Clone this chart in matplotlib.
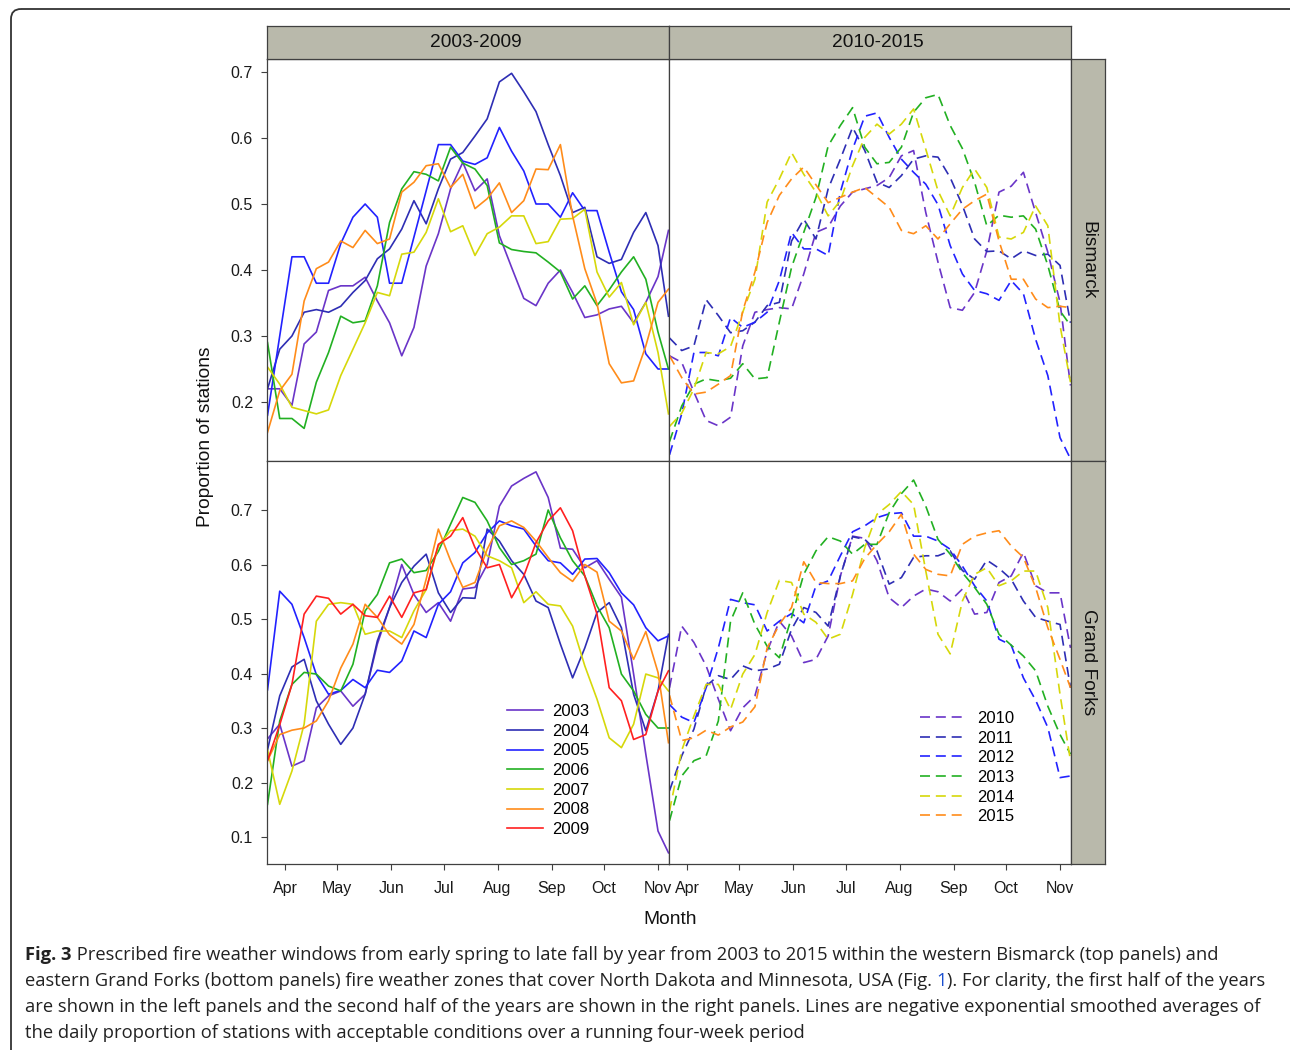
import numpy as np
import matplotlib
matplotlib.use("Agg")
import matplotlib.pyplot as plt
from matplotlib.patches import FancyBboxPatch

plt.rcParams['font.family'] = ['Liberation Sans', 'DejaVu Sans']

# sampling days (day of year), weekly from late March to early November
days = [81, 88, 95, 102, 109, 116, 123, 130, 137, 144, 151, 158, 165, 172, 179, 186, 193,
        200, 207, 214, 221, 228, 235, 242, 249, 256, 263, 270, 277, 284, 291, 298, 305, 311]

month_ticks = [91, 121, 152, 182, 213, 244, 274, 305]
month_labels = ['Apr', 'May', 'Jun', 'Jul', 'Aug', 'Sep', 'Oct', 'Nov']

# Bismarck, 2003-2009 (no 2009 line)
bis03 = [0.22, 0.22, 0.195, 0.288, 0.306, 0.369, 0.376, 0.376, 0.389, 0.353, 0.32, 0.27, 0.313, 0.406, 0.455, 0.523, 0.563,
         0.52, 0.538, 0.452, 0.404, 0.357, 0.346, 0.38, 0.40, 0.366, 0.328, 0.332, 0.341, 0.345, 0.32, 0.351, 0.39, 0.46]
bis04 = [0.22, 0.28, 0.30, 0.336, 0.34, 0.336, 0.345, 0.366, 0.384, 0.417, 0.432, 0.462, 0.505, 0.47, 0.523, 0.568, 0.578,
         0.603, 0.629, 0.685, 0.698, 0.67, 0.64, 0.59, 0.543, 0.487, 0.495, 0.42, 0.41, 0.416, 0.457, 0.487, 0.437, 0.33]
bis05 = [0.18, 0.30, 0.42, 0.42, 0.38, 0.38, 0.44, 0.48, 0.50, 0.48, 0.38, 0.38, 0.45, 0.52, 0.59, 0.59, 0.565,
         0.56, 0.57, 0.616, 0.58, 0.55, 0.50, 0.50, 0.48, 0.517, 0.49, 0.49, 0.427, 0.367, 0.34, 0.273, 0.25, 0.25]
bis06 = [0.29, 0.175, 0.175, 0.16, 0.23, 0.275, 0.33, 0.32, 0.323, 0.376, 0.472, 0.523, 0.549, 0.545, 0.535, 0.586, 0.562,
         0.553, 0.528, 0.441, 0.431, 0.428, 0.426, 0.412, 0.397, 0.356, 0.376, 0.346, 0.37, 0.397, 0.42, 0.386, 0.306, 0.25]
bis07 = [0.253, 0.227, 0.192, 0.187, 0.182, 0.188, 0.24, 0.28, 0.32, 0.366, 0.361, 0.424, 0.427, 0.457, 0.508, 0.458, 0.467,
         0.422, 0.455, 0.465, 0.482, 0.482, 0.44, 0.443, 0.477, 0.478, 0.492, 0.397, 0.359, 0.381, 0.317, 0.351, 0.275, 0.182]
bis08 = [0.154, 0.217, 0.242, 0.353, 0.402, 0.412, 0.444, 0.434, 0.46, 0.44, 0.447, 0.518, 0.533, 0.558, 0.561, 0.525, 0.545,
         0.493, 0.508, 0.532, 0.487, 0.505, 0.553, 0.552, 0.59, 0.482, 0.402, 0.349, 0.258, 0.229, 0.232, 0.285, 0.351, 0.371]

# Grand Forks, 2003-2009
gf03 = [0.28, 0.307, 0.23, 0.24, 0.337, 0.359, 0.368, 0.34, 0.362, 0.454, 0.521, 0.60, 0.545, 0.512, 0.53, 0.496, 0.555,
        0.558, 0.60, 0.707, 0.744, 0.758, 0.77, 0.723, 0.63, 0.628, 0.594, 0.607, 0.573, 0.54, 0.399, 0.252, 0.111, 0.071]
gf04 = [0.26, 0.359, 0.412, 0.426, 0.35, 0.307, 0.27, 0.30, 0.362, 0.46, 0.521, 0.567, 0.597, 0.619, 0.548, 0.512, 0.539,
        0.538, 0.665, 0.643, 0.607, 0.582, 0.533, 0.521, 0.454, 0.392, 0.447, 0.512, 0.53, 0.484, 0.362, 0.295, 0.368, 0.472]
gf05 = [0.37, 0.551, 0.527, 0.466, 0.398, 0.362, 0.369, 0.389, 0.374, 0.406, 0.402, 0.423, 0.478, 0.466, 0.527, 0.55, 0.603,
        0.622, 0.658, 0.68, 0.671, 0.665, 0.634, 0.607, 0.603, 0.582, 0.61, 0.611, 0.585, 0.548, 0.526, 0.484, 0.46, 0.469]
gf06 = [0.16, 0.313, 0.38, 0.402, 0.399, 0.377, 0.368, 0.417, 0.515, 0.545, 0.603, 0.61, 0.585, 0.589, 0.624, 0.674, 0.723,
        0.714, 0.68, 0.631, 0.60, 0.607, 0.619, 0.70, 0.649, 0.607, 0.579, 0.524, 0.484, 0.399, 0.368, 0.325, 0.30, 0.30]
gf07 = [0.26, 0.16, 0.221, 0.307, 0.496, 0.527, 0.53, 0.527, 0.472, 0.478, 0.478, 0.466, 0.515, 0.554, 0.634, 0.662, 0.665,
        0.652, 0.616, 0.607, 0.594, 0.53, 0.55, 0.527, 0.524, 0.487, 0.414, 0.353, 0.282, 0.264, 0.307, 0.399, 0.392, 0.368]
gf08 = [0.24, 0.288, 0.296, 0.30, 0.313, 0.35, 0.41, 0.454, 0.527, 0.503, 0.471, 0.454, 0.49, 0.573, 0.665, 0.607, 0.558,
        0.567, 0.628, 0.671, 0.68, 0.668, 0.643, 0.613, 0.585, 0.569, 0.60, 0.586, 0.496, 0.478, 0.426, 0.477, 0.402, 0.273]
gf09 = [0.24, 0.306, 0.38, 0.509, 0.542, 0.538, 0.509, 0.527, 0.506, 0.503, 0.542, 0.503, 0.548, 0.554, 0.637, 0.652, 0.686,
        0.631, 0.594, 0.60, 0.539, 0.579, 0.64, 0.68, 0.704, 0.662, 0.579, 0.509, 0.374, 0.35, 0.279, 0.288, 0.368, 0.405]

# Bismarck, 2010-2015
bis10 = [0.27, 0.26, 0.215, 0.172, 0.164, 0.177, 0.285, 0.336, 0.34, 0.343, 0.341, 0.394, 0.457, 0.465, 0.497, 0.518, 0.523,
         0.528, 0.54, 0.573, 0.581, 0.487, 0.412, 0.343, 0.339, 0.366, 0.429, 0.518, 0.527, 0.548, 0.487, 0.427, 0.351, 0.225]
bis11 = [0.297, 0.278, 0.285, 0.355, 0.331, 0.305, 0.308, 0.321, 0.346, 0.351, 0.444, 0.477, 0.447, 0.523, 0.568, 0.616, 0.581,
         0.533, 0.525, 0.543, 0.568, 0.573, 0.571, 0.54, 0.498, 0.447, 0.428, 0.429, 0.417, 0.429, 0.422, 0.424, 0.407, 0.32]
bis12 = [0.12, 0.182, 0.275, 0.275, 0.27, 0.328, 0.313, 0.321, 0.336, 0.384, 0.457, 0.432, 0.432, 0.422, 0.518, 0.583, 0.633,
         0.638, 0.601, 0.568, 0.548, 0.53, 0.499, 0.437, 0.394, 0.369, 0.364, 0.354, 0.384, 0.364, 0.295, 0.24, 0.146, 0.114]
bis13 = [0.14, 0.194, 0.227, 0.235, 0.232, 0.236, 0.258, 0.235, 0.237, 0.321, 0.404, 0.457, 0.51, 0.588, 0.619, 0.646, 0.586,
         0.561, 0.563, 0.586, 0.639, 0.661, 0.666, 0.619, 0.584, 0.533, 0.467, 0.483, 0.48, 0.482, 0.462, 0.407, 0.338, 0.316]
bis14 = [0.163, 0.183, 0.22, 0.275, 0.273, 0.284, 0.336, 0.386, 0.503, 0.538, 0.578, 0.545, 0.518, 0.482, 0.505, 0.558, 0.601,
         0.621, 0.606, 0.621, 0.644, 0.583, 0.52, 0.482, 0.525, 0.553, 0.525, 0.45, 0.447, 0.457, 0.497, 0.467, 0.316, 0.23]
bis15 = [0.27, 0.237, 0.212, 0.215, 0.227, 0.24, 0.338, 0.397, 0.472, 0.513, 0.538, 0.556, 0.529, 0.502, 0.51, 0.518, 0.525,
         0.51, 0.495, 0.46, 0.455, 0.467, 0.447, 0.47, 0.492, 0.505, 0.515, 0.444, 0.386, 0.386, 0.356, 0.343, 0.345, 0.343]

# Grand Forks, 2010-2015
gf10 = [0.374, 0.487, 0.457, 0.414, 0.353, 0.295, 0.337, 0.359, 0.441, 0.496, 0.469, 0.42, 0.426, 0.469, 0.579, 0.652, 0.648,
        0.607, 0.539, 0.521, 0.542, 0.555, 0.55, 0.533, 0.555, 0.509, 0.512, 0.567, 0.579, 0.622, 0.561, 0.548, 0.548, 0.447]
gf11 = [0.185, 0.249, 0.298, 0.377, 0.396, 0.389, 0.414, 0.405, 0.408, 0.417, 0.481, 0.521, 0.512, 0.487, 0.579, 0.651, 0.646,
        0.625, 0.564, 0.576, 0.613, 0.616, 0.616, 0.625, 0.589, 0.573, 0.608, 0.593, 0.573, 0.533, 0.503, 0.496, 0.49, 0.374]
gf12 = [0.343, 0.32, 0.31, 0.374, 0.447, 0.536, 0.53, 0.526, 0.478, 0.496, 0.51, 0.493, 0.561, 0.57, 0.616, 0.66, 0.671,
        0.686, 0.693, 0.695, 0.652, 0.652, 0.643, 0.628, 0.597, 0.561, 0.533, 0.463, 0.452, 0.392, 0.351, 0.301, 0.209, 0.212]
gf13 = [0.13, 0.212, 0.24, 0.249, 0.313, 0.496, 0.548, 0.49, 0.45, 0.429, 0.503, 0.582, 0.625, 0.651, 0.643, 0.619, 0.637,
        0.637, 0.695, 0.73, 0.755, 0.707, 0.646, 0.619, 0.585, 0.558, 0.527, 0.472, 0.452, 0.432, 0.405, 0.34, 0.288, 0.252]
gf14 = [0.148, 0.259, 0.322, 0.38, 0.38, 0.334, 0.399, 0.435, 0.512, 0.571, 0.567, 0.509, 0.494, 0.463, 0.472, 0.545, 0.631,
        0.692, 0.71, 0.734, 0.71, 0.588, 0.472, 0.436, 0.533, 0.582, 0.594, 0.561, 0.57, 0.588, 0.588, 0.521, 0.362, 0.24]
gf15 = [0.36, 0.277, 0.282, 0.296, 0.287, 0.302, 0.311, 0.339, 0.447, 0.49, 0.521, 0.605, 0.567, 0.565, 0.565, 0.57, 0.611,
        0.637, 0.66, 0.692, 0.619, 0.591, 0.582, 0.579, 0.637, 0.652, 0.658, 0.662, 0.634, 0.613, 0.558, 0.484, 0.426, 0.374]

year_colors = ['#6a35c8', '#2e2eb4', '#2222ff', '#22b022', '#d6d80a', '#ff8c1a', '#ff2020']
first_years = [2003, 2004, 2005, 2006, 2007, 2008, 2009]
last_years = [2010, 2011, 2012, 2013, 2014, 2015]

bis_first = [bis03, bis04, bis05, bis06, bis07, bis08, None]
gf_first = [gf03, gf04, gf05, gf06, gf07, gf08, gf09]
bis_last = [bis10, bis11, bis12, bis13, bis14, bis15]
gf_last = [gf10, gf11, gf12, gf13, gf14, gf15]

W, H = 1290, 1050
fig = plt.figure(figsize=(W / 100, H / 100), dpi=100)

# background axes in pixel units, for the outer frame and caption
bg = fig.add_axes([0, 0, 1, 1])
bg.set_xlim(0, W)
bg.set_ylim(H, 0)
bg.axis('off')
bg.add_patch(FancyBboxPatch((11, 9), 1300, 1080, boxstyle='round,pad=0,rounding_size=10',
                            fc='none', ec='#333333', lw=1.3))


def px_axes(x0, y0, x1, y1):
    return fig.add_axes([x0 / W, 1 - y1 / H, (x1 - x0) / W, (y1 - y0) / H])


frame_col = '#404040'
dash = (0, (6, 3.5))
lw = 1.2

panels = {}
for r, (ytop, ybot) in enumerate([(59, 461), (461, 864)]):
    for c, (xl, xr) in enumerate([(267, 669), (669, 1071)]):
        ax = px_axes(xl, ytop, xr, ybot)
        ax.set_xlim(80.7, 311.3)
        if r == 0:
            ax.set_ylim(0.1106, 0.7197)
            ax.set_yticks([0.2, 0.3, 0.4, 0.5, 0.6, 0.7])
        else:
            ax.set_ylim(0.0505, 0.7899)
            ax.set_yticks([0.1, 0.2, 0.3, 0.4, 0.5, 0.6, 0.7])
        ax.set_xticks(month_ticks)
        ax.set_xticklabels(month_labels)
        for s in ax.spines.values():
            s.set_color(frame_col)
            s.set_linewidth(0.9)
        ax.tick_params(direction='out', length=4, width=0.8, color=frame_col,
                       labelsize=11.5, labelcolor='#1a1a1a')
        ax.tick_params(axis='x', bottom=(r == 1), labelbottom=(r == 1), pad=8)
        ax.tick_params(axis='y', left=(c == 0), labelleft=(c == 0), pad=6)
        panels[(r, c)] = ax

# draw lines
for yr, col, ys in zip(first_years, year_colors, bis_first):
    if ys is not None:
        panels[(0, 0)].plot(days, ys, color=col, lw=lw, label=str(yr))
for yr, col, ys in zip(first_years, year_colors, gf_first):
    panels[(1, 0)].plot(days, ys, color=col, lw=lw, label=str(yr))
for yr, col, ys in zip(last_years, year_colors, bis_last):
    panels[(0, 1)].plot(days, ys, color=col, lw=lw, ls=dash, label=str(yr))
for yr, col, ys in zip(last_years, year_colors, gf_last):
    panels[(1, 1)].plot(days, ys, color=col, lw=lw, ls=dash, label=str(yr))

panels[(1, 0)].legend(loc='upper left', bbox_to_anchor=(0.597, 0.397), frameon=False,
                      fontsize=12, handlelength=2.15, handletextpad=0.55, labelspacing=0.28,
                      borderpad=0, borderaxespad=0)
panels[(1, 1)].legend(loc='upper left', bbox_to_anchor=(0.624, 0.38), frameon=False,
                      fontsize=12, handlelength=2.55, handletextpad=0.9, labelspacing=0.28,
                      borderpad=0, borderaxespad=0)

# strips
strip_col = '#b9b9ab'
for (xl, xr), lab in zip([(267, 669), (669, 1071)], ['2003-2009', '2010-2015']):
    s = px_axes(xl, 26, xr, 59)
    s.set_facecolor(strip_col)
    s.set_xticks([])
    s.set_yticks([])
    for sp in s.spines.values():
        sp.set_color(frame_col)
        sp.set_linewidth(0.9)
    s.text(0.52, 0.5, lab, ha='center', va='center', fontsize=13.8, color='#111111',
           transform=s.transAxes)
for (yt, yb), lab in zip([(59, 461), (461, 864)], ['Bismarck', 'Grand Forks']):
    s = px_axes(1071, yt, 1105, yb)
    s.set_facecolor(strip_col)
    s.set_xticks([])
    s.set_yticks([])
    for sp in s.spines.values():
        sp.set_color(frame_col)
        sp.set_linewidth(0.9)
    s.text(0.5, 0.5, lab, ha='center', va='center', fontsize=13.8, color='#111111',
           rotation=270, transform=s.transAxes)

# axis titles
bg.text(206, 437, 'Proportion of stations', rotation=90, ha='center', va='center',
        fontsize=13.8, color='#111111')
bg.text(670, 920, 'Month', ha='center', va='center', fontsize=13.8, color='#111111')

# caption
renderer = fig.canvas.get_renderer()
cap_font = ['Open Sans', 'DejaVu Sans']
cap_size = 13.25


def caption_line(y, parts):
    x = 25
    for txt, col, wt in parts:
        t = bg.text(x, y, txt, color=col, fontweight=wt, fontsize=cap_size,
                    family=cap_font, ha='left', va='center')
        x += t.get_window_extent(renderer).width


cap_col = '#222222'
caption_line(955, [('Fig. 3', cap_col, 'bold'),
                   (' Prescribed fire weather windows from early spring to late fall by year from 2003 to 2015 '
                    'within the western Bismarck (top panels) and', cap_col, 'normal')])
caption_line(981, [('eastern Grand Forks (bottom panels) fire weather zones that cover North Dakota and '
                    'Minnesota, USA (Fig. ', cap_col, 'normal'),
                   ('1', '#1a4fd0', 'normal'),
                   ('). For clarity, the first half of the years', cap_col, 'normal')])
caption_line(1007, [('are shown in the left panels and the second half of the years are shown in the right '
                     'panels. Lines are negative exponential smoothed averages of', cap_col, 'normal')])
caption_line(1033, [('the daily proportion of stations with acceptable conditions over a running '
                     'four-week period', cap_col, 'normal')])

fig.savefig('out.png', dpi=100)
